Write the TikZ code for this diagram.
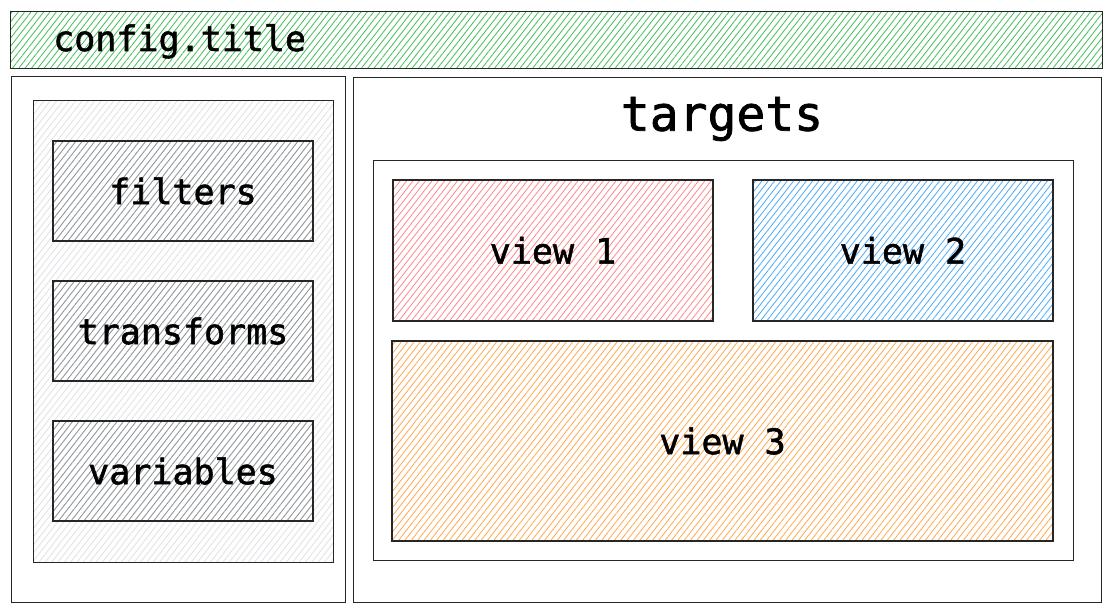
\documentclass[tikz,border=0pt]{standalone}
\usepackage{fontspec}
\newfontfamily\codefam{DejaVu Sans Mono}[BoldFont={DejaVu Sans Mono},BoldFeatures={FakeBold=1.5}]
\usetikzlibrary{positioning,patterns.meta}

\definecolor{hatchgreen}{HTML}{40C057}
\definecolor{hatchgrey}{HTML}{909599}
\definecolor{hatchlight}{HTML}{DEE2E6}
\definecolor{hatchred}{HTML}{FF8787}
\definecolor{hatchblue}{HTML}{4DABF7}
\definecolor{hatchorange}{HTML}{FFA94D}

\tikzset{
  sketch/.style={draw=black!85, line width=1.2pt, inner sep=0pt},
  panel/.style={sketch, fill=white, anchor=north west},
  hatched/.style={pattern={Lines[angle=52,distance=5pt,line width=0.8pt]}, pattern color=#1},
  codefont/.style={font=\codefam\bfseries\fontsize{35}{40}\selectfont},
  stagebox/.style={sketch, hatched=hatchgrey, minimum width=260pt, minimum height=100pt, codefont},
  viewbox/.style={sketch, minimum height=141pt, codefont}
}

\begin{document}
\begin{tikzpicture}[x=1pt,y=-1pt,node distance=140pt,on grid]
  \useasboundingbox[fill=white] (0,0) rectangle (1112,612);

  % title bar
  \node[panel, hatched=hatchgreen, minimum width=1092pt, minimum height=57pt] (titlebar) at (10,11) {};
  \node[codefont, anchor=base west, inner sep=0pt] (title) at (53,51) {config.title};

  % left side: pipeline stages
  \node[panel, minimum width=334pt, minimum height=526pt] (left) at (11,76) {};
  \node[panel, hatched=hatchlight, minimum width=300pt, minimum height=462pt] (stages) at (33,100) {};
  \node[stagebox] (filters) at (183,191) {filters};
  \node[stagebox] (transforms) [below=of filters] {transforms};
  \node[stagebox] (variables) [below=of transforms] {variables};

  % right side: targets and views
  \node[panel, minimum width=748pt, minimum height=525pt] (right) at (353,77) {};
  \node[font=\codefam\bfseries\fontsize{48}{54}\selectfont] (targets) at (722,119) {targets};
  \node[panel, minimum width=700pt, minimum height=400pt] (views) at (373,160) {};
  \node[viewbox, hatched=hatchred, minimum width=320pt] (view1) at (553,250.5) {view 1};
  \node[viewbox, hatched=hatchblue, minimum width=300pt] (view2) at (903,250.5) {view 2};
  \node[sketch, hatched=hatchorange, minimum width=661pt, minimum height=200pt, codefont] (view3) at (722.5,441) {view 3};
\end{tikzpicture}
\end{document}
